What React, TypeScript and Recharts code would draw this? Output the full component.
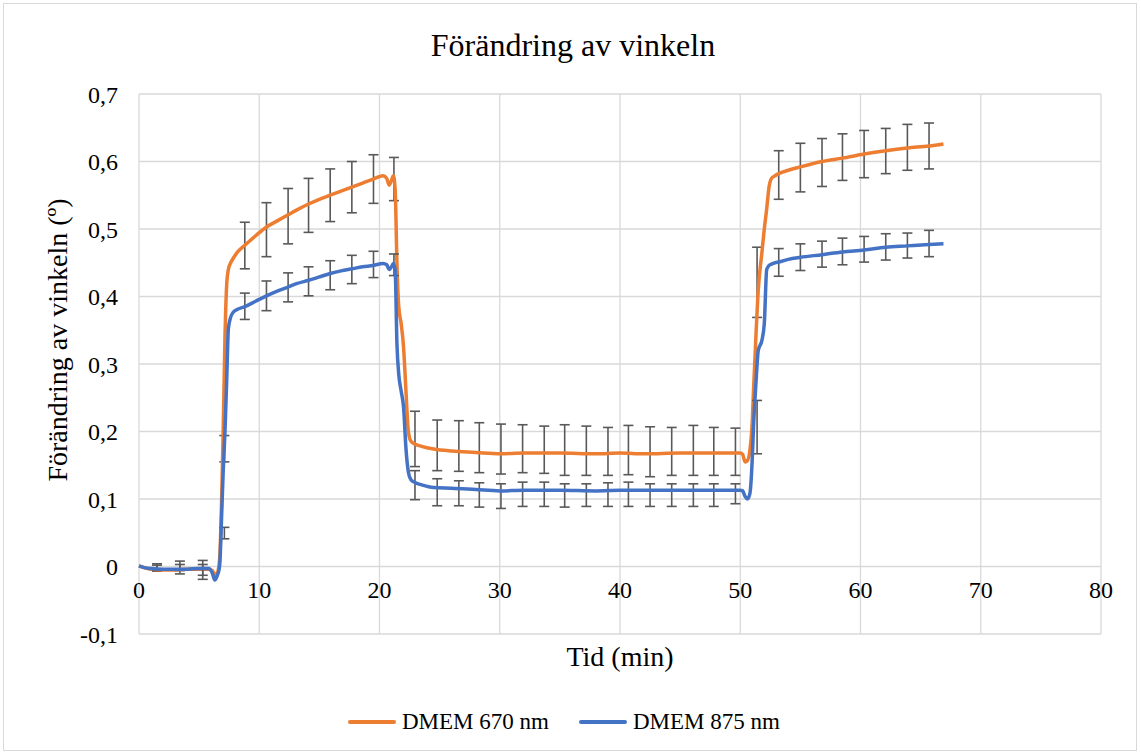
import React from 'react';
import { ComposedChart, Line, Scatter, ErrorBar, XAxis, YAxis, CartesianGrid } from 'recharts';

const seriesNames = ['DMEM 670 nm', 'DMEM 875 nm'];
const seriesColors = ['#ED7D31', '#4472C4'];

const times = [
  0, 0.5, 1, 2, 3, 4, 5, 5.8, 6.1, 6.3, 6.5, 6.7, 6.9, 7.0, 7.15, 7.3, 7.43, 7.6, 7.85, 8.2,
  8.8, 9.7, 10.6, 11.5, 12.4, 13.1, 14.1, 15.0, 15.9, 16.8, 17.7, 18.6, 19.5, 20.3, 20.6, 20.8,
  21.0, 21.15, 21.3, 21.45, 21.6, 21.8, 22.0, 22.2, 22.4, 22.6, 23.0, 23.5, 24.5, 26, 28, 30,
  32, 35, 38, 40, 42, 45, 48, 50, 50.2, 50.4, 50.6, 50.8, 51.0, 51.1, 51.3, 51.5, 51.8, 52.0,
  52.2, 52.4, 52.6, 52.9, 53.2, 54, 55, 56.8, 58.5, 60.3, 62.1, 63.9, 65.7, 66.9,
];

const dmem670 = [
  0.001, -0.002, -0.004, -0.005, -0.005, -0.004, -0.004, -0.004, -0.006, -0.012, -0.01, 0.01, 0.12, 0.2, 0.34, 0.42, 0.44, 0.449, 0.457, 0.466,
  0.476, 0.49, 0.503, 0.512, 0.521, 0.528, 0.537, 0.544, 0.55, 0.556, 0.562, 0.568, 0.574, 0.579, 0.575, 0.565,
  0.572, 0.579, 0.56, 0.45, 0.385, 0.36, 0.325, 0.26, 0.2, 0.186, 0.181, 0.178, 0.174, 0.171, 0.169, 0.167,
  0.168, 0.168, 0.167, 0.168, 0.167, 0.168, 0.168, 0.168, 0.166, 0.155, 0.157, 0.172, 0.215, 0.26, 0.34, 0.41, 0.465, 0.5,
  0.53, 0.563, 0.575, 0.579, 0.582, 0.587, 0.592, 0.6, 0.605, 0.611, 0.616, 0.62, 0.623, 0.626,
];

const dmem875 = [
  0.001, -0.002, -0.003, -0.004, -0.004, -0.004, -0.003, -0.003, -0.01, -0.02, -0.014, 0.0, 0.09, 0.14, 0.2, 0.28, 0.352, 0.368, 0.377, 0.381,
  0.385, 0.393, 0.401, 0.408, 0.414, 0.419, 0.424, 0.429, 0.434, 0.438, 0.441, 0.444, 0.446, 0.449, 0.447, 0.44,
  0.444, 0.449, 0.44, 0.33, 0.285, 0.26, 0.236, 0.175, 0.14, 0.129, 0.124, 0.121, 0.117, 0.116, 0.114, 0.112,
  0.113, 0.113, 0.112, 0.113, 0.113, 0.113, 0.113, 0.113, 0.112, 0.104, 0.1, 0.108, 0.16, 0.206, 0.27, 0.32, 0.335, 0.36,
  0.44, 0.446, 0.448, 0.45, 0.451, 0.455, 0.458, 0.462, 0.466, 0.469, 0.473, 0.475, 0.477, 0.478,
];

const errTimes = [
  1.5, 3.4, 5.3, 7.1, 8.8, 10.6, 12.4, 14.1, 15.9, 17.7, 19.5, 21.2, 22.95, 24.8, 26.6, 28.3, 30.1,
  31.9, 33.7, 35.4, 37.2, 39.0, 40.7, 42.5, 44.3, 46.1, 47.8, 49.6, 51.4, 53.2, 55.0, 56.8, 58.5,
  60.3, 62.1, 63.9, 65.7,
];

const err670Top = [
  0.004, 0.008, 0.009, 0.194, 0.51, 0.539, 0.56, 0.575, 0.589, 0.6, 0.61, 0.606, 0.23, 0.217, 0.216, 0.213, 0.211,
  0.21, 0.208, 0.21, 0.208, 0.206, 0.209, 0.207, 0.206, 0.209, 0.206, 0.205, 0.473, 0.616, 0.627, 0.634, 0.641,
  0.646, 0.649, 0.655, 0.657,
];
const err670Bottom = [
  -0.007, -0.011, -0.019, 0.155, 0.441, 0.459, 0.478, 0.495, 0.511, 0.524, 0.538, 0.542, 0.148, 0.142, 0.141, 0.139, 0.137,
  0.139, 0.138, 0.135, 0.135, 0.135, 0.136, 0.133, 0.135, 0.135, 0.135, 0.135, 0.369, 0.544, 0.555, 0.563, 0.572,
  0.576, 0.582, 0.587, 0.589,
];
const err875Top = [
  0.002, 0.003, 0.003, 0.058, 0.405, 0.423, 0.435, 0.444, 0.453, 0.461, 0.467, 0.463, 0.142, 0.13, 0.127, 0.124, 0.1225,
  0.125, 0.125, 0.1225, 0.1225, 0.124, 0.125, 0.1225, 0.1225, 0.1225, 0.1225, 0.1225, 0.246, 0.471, 0.478, 0.482, 0.4865,
  0.489, 0.493, 0.494, 0.498,
];
const err875Bottom = [
  -0.005, -0.006, -0.013, 0.041, 0.366, 0.379, 0.392, 0.401, 0.41, 0.419, 0.428, 0.431, 0.099, 0.09, 0.09, 0.088, 0.086,
  0.089, 0.089, 0.088, 0.089, 0.089, 0.089, 0.089, 0.089, 0.089, 0.089, 0.093, 0.167, 0.43, 0.4385, 0.4435, 0.447,
  0.451, 0.454, 0.457, 0.459,
];

const xTicks = [0, 10, 20, 30, 40, 50, 60, 70, 80];
const yTicks = [-0.1, 0, 0.1, 0.2, 0.3, 0.4, 0.5, 0.6, 0.7];

const chartTitle = 'Förändring av vinkeln';
const xTitle = 'Tid (min)';
const yTitle = 'Förändring av vinkeln (º)';

const FONT = '"Liberation Serif", "Times New Roman", serif';

const lineData = times.map((t, i) => ({ t, a: dmem670[i], b: dmem875[i] }));
const makeErr = (tops: number[], bottoms: number[]) =>
  errTimes.map((t, i) => ({ t, mid: (tops[i] + bottoms[i]) / 2, err: (tops[i] - bottoms[i]) / 2 }));
const errA = makeErr(err670Top, err670Bottom);
const errB = makeErr(err875Top, err875Bottom);

const fmtY = (v: number) => (v === 0 ? '0' : v.toFixed(1).replace('.', ','));

const XTick = (props: any) => {
  const { x, y, payload } = props;
  return (
    <text x={x} y={y - 36} textAnchor="middle" fontFamily={FONT} fontSize={24} fill="#000">
      {payload.value}
    </text>
  );
};

const NoShape = () => <g />;

export default function App() {
  return (
    <div style={{ position: 'absolute', left: 0, top: 0, width: 1141, height: 755, background: '#fff', fontFamily: FONT }}>
      <div
        style={{
          position: 'absolute', left: 3, top: 3, width: 1134, height: 748,
          border: '1px solid #d9d9d9', boxSizing: 'border-box',
        }}
      />
      <div
        style={{
          position: 'absolute', left: 0, top: 27, width: 1146, textAlign: 'center',
          fontSize: 32, lineHeight: '36px', color: '#000',
        }}
      >
        {chartTitle}
      </div>
      <ComposedChart
        width={1141}
        height={755}
        data={lineData}
        margin={{ top: 94, right: 40, bottom: 91, left: 79 }}
        style={{ position: 'absolute', left: 0, top: 0 }}
      >
        <CartesianGrid stroke="#d9d9d9" strokeWidth={1.3} />
        <XAxis
          type="number"
          dataKey="t"
          domain={[0, 80]}
          ticks={xTicks}
          height={30}
          axisLine={false}
          tickLine={false}
          tickSize={0}
          tickMargin={0}
          tick={<XTick />}
          interval={0}
        />
        <YAxis
          type="number"
          domain={[-0.1, 0.7]}
          ticks={yTicks}
          width={60}
          axisLine={false}
          tickLine={false}
          tickSize={0}
          tickMargin={21}
          tickFormatter={fmtY}
          tick={{ fontFamily: FONT, fontSize: 24, fill: '#000' }}
          interval={0}
        />
        <Scatter data={errA} dataKey="mid" shape={<NoShape />} legendType="none" isAnimationActive={false}>
          <ErrorBar dataKey="err" direction="y" width={5} stroke="#595959" strokeWidth={1.6} />
        </Scatter>
        <Line
          dataKey="a"
          name={seriesNames[0]}
          type="monotone"
          stroke={seriesColors[0]}
          strokeWidth={3.5}
          dot={false}
          isAnimationActive={false}
        />
        <Scatter data={errB} dataKey="mid" shape={<NoShape />} legendType="none" isAnimationActive={false}>
          <ErrorBar dataKey="err" direction="y" width={5} stroke="#595959" strokeWidth={1.6} />
        </Scatter>
        <Line
          dataKey="b"
          name={seriesNames[1]}
          type="monotone"
          stroke={seriesColors[1]}
          strokeWidth={3.5}
          dot={false}
          isAnimationActive={false}
        />
      </ComposedChart>
      <div
        style={{
          position: 'absolute', left: 58, top: 340, transform: 'translate(-50%, -50%) rotate(-90deg)',
          whiteSpace: 'nowrap', fontSize: 28, color: '#000',
        }}
      >
        {yTitle}
      </div>
      <div
        style={{
          position: 'absolute', left: 0, top: 641, width: 1240, textAlign: 'center',
          fontSize: 28, lineHeight: '32px', color: '#000',
        }}
      >
        {xTitle}
      </div>
      <div
        style={{
          position: 'absolute', left: 348, top: 706, display: 'flex', alignItems: 'center', gap: 30,
          fontSize: 23, color: '#000', lineHeight: '32px',
        }}
      >
        {seriesNames.map((n, i) => (
          <div key={n} style={{ display: 'flex', alignItems: 'center' }}>
            <div style={{ width: 48, height: 4, background: seriesColors[i], borderRadius: 2, marginRight: 6 }} />
            <span>{n}</span>
          </div>
        ))}
      </div>
    </div>
  );
}
